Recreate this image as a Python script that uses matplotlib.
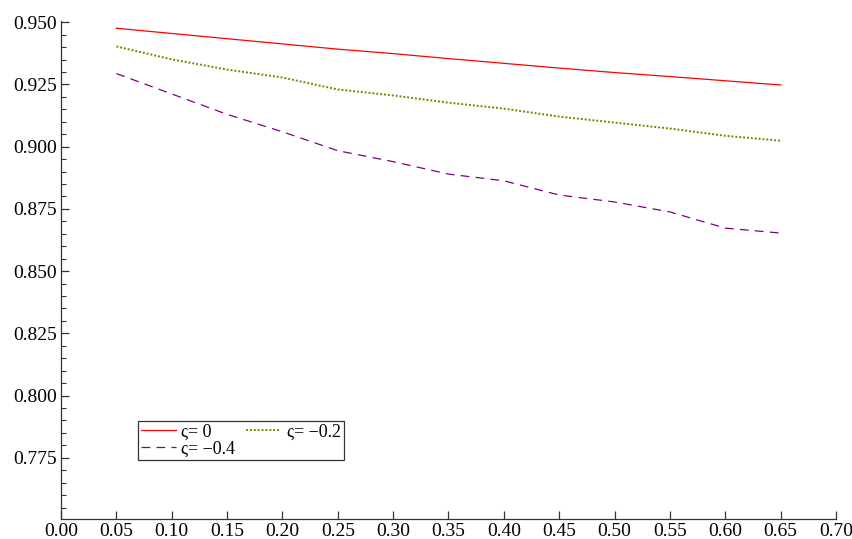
import matplotlib
matplotlib.use('Agg')
import matplotlib.pyplot as plt
from matplotlib.ticker import MultipleLocator, FormatStrFormatter

plt.rcParams['font.family'] = ['Liberation Serif', 'DejaVu Serif']

# coverage probabilities for three values of the skew parameter
x = [0.05, 0.10, 0.15, 0.20, 0.25, 0.30, 0.35, 0.40, 0.45, 0.50, 0.55, 0.60, 0.65]
cov_0 = [0.9476, 0.9455, 0.9434, 0.9413, 0.9392, 0.9374, 0.9354, 0.9335,
         0.9316, 0.9298, 0.9282, 0.9265, 0.9248]
cov_m02 = [0.9403, 0.9351, 0.9310, 0.9278, 0.9230, 0.9206, 0.9177, 0.9153,
           0.9121, 0.9097, 0.9073, 0.9044, 0.9024]
cov_m04 = [0.9294, 0.9212, 0.9130, 0.9060, 0.8984, 0.8940, 0.8890, 0.8863,
           0.8806, 0.8778, 0.8738, 0.8673, 0.8653]

fig = plt.figure(figsize=(8.53, 5.39), dpi=100)
ax = fig.add_axes([0.0715, 0.037, 0.9085, 0.924])

l0, = ax.plot(x, cov_0, color='#ff0000', lw=0.9, label='ς= 0')
l2, = ax.plot(x, cov_m02, color='#808000', lw=1.4, linestyle=(0, (1, 1)),
              label='ς= −0.2')
l4, = ax.plot(x, cov_m04, color='#800080', lw=0.9, linestyle=(0, (7, 5)),
              label='ς= −0.4')

ax.set_xlim(0, 0.70)
ax.set_ylim(0.7504, 0.9505)
ax.xaxis.set_major_locator(MultipleLocator(0.05))
ax.xaxis.set_major_formatter(FormatStrFormatter('%.2f'))
ax.yaxis.set_major_locator(MultipleLocator(0.025))
ax.yaxis.set_minor_locator(MultipleLocator(0.005))
ax.yaxis.set_major_formatter(FormatStrFormatter('%.3f'))

for side in ['top', 'right']:
    ax.spines[side].set_visible(False)
for side in ['left', 'bottom']:
    ax.spines[side].set_color('#333333')
    ax.spines[side].set_linewidth(0.9)

ax.tick_params(axis='both', which='major', direction='in', length=6,
               width=0.9, color='#333333', labelsize=14, pad=3)
ax.tick_params(axis='y', which='minor', direction='in', length=3.5,
               width=0.8, color='#333333')

leg = ax.legend(handles=[l0, l4, l2], ncol=2, loc='lower left',
                bbox_to_anchor=(0.0994, 0.118), fontsize=13, frameon=True,
                fancybox=False, handlelength=1.95, handletextpad=0.3,
                columnspacing=0.6, borderpad=0.15, labelspacing=0.0,
                borderaxespad=0)
leg.get_frame().set_edgecolor('black')
leg.get_frame().set_linewidth(0.9)

fig.savefig('out.png', dpi=100)
